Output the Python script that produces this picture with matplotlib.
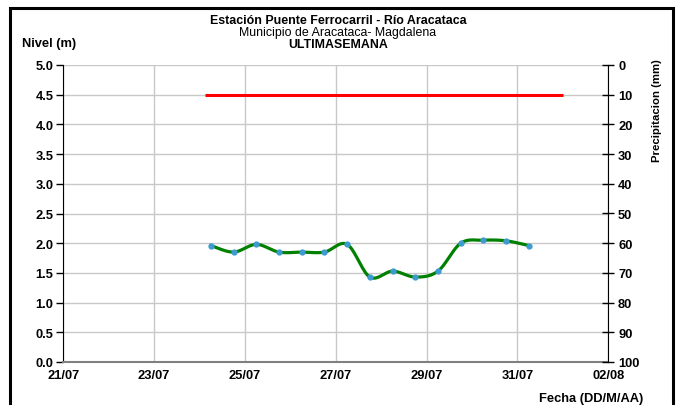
import matplotlib
matplotlib.use("Agg")
import matplotlib.pyplot as plt
import matplotlib.dates as mdates
from matplotlib.patches import Rectangle
import numpy as np
from datetime import datetime

plt.rcParams['font.family'] = ['Liberation Sans', 'DejaVu Sans']

# ---- data ----
times = ["2012-07-24 06:00", "2012-07-24 18:00", "2012-07-25 06:00", "2012-07-25 18:00",
         "2012-07-26 06:00", "2012-07-26 18:00", "2012-07-27 06:00", "2012-07-27 18:00",
         "2012-07-28 06:00", "2012-07-28 18:00", "2012-07-29 06:00", "2012-07-29 18:00",
         "2012-07-30 06:00", "2012-07-30 18:00", "2012-07-31 06:00"]
nivel = [1.96, 1.85, 1.98, 1.85, 1.85, 1.85, 1.98, 1.43, 1.53, 1.43, 1.53, 2.00, 2.05, 2.04, 1.96]
alerta_times = ["2012-07-24 03:00", "2012-08-01 00:00"]
alerta_nivel = [4.5, 4.5]
x_start = "2012-07-21"
x_end = "2012-08-02"

title1 = "Estación Puente Ferrocarril - Río Aracataca"
title2 = "Municipio de Aracataca- Magdalena"
title3 = "ULTIMASEMANA"

# ---- helpers ----
def to_num(ts):
    return np.array([mdates.date2num(datetime.fromisoformat(t)) for t in ts])

def smooth(x, y, n=20):
    # Excel-like smoothed line: cubic Bezier with Catmull-Rom control points
    x = np.asarray(x, float); y = np.asarray(y, float)
    px = np.concatenate([[x[0]], x, [x[-1]]])
    py = np.concatenate([[y[0]], y, [y[-1]]])
    xs, ys = [], []
    t = np.linspace(0, 1, n)
    for i in range(1, len(px) - 2):
        p0 = np.array([px[i], py[i]]); p3 = np.array([px[i + 1], py[i + 1]])
        p1 = p0 + (np.array([px[i + 1], py[i + 1]]) - np.array([px[i - 1], py[i - 1]])) / 6
        p2 = p3 - (np.array([px[i + 2], py[i + 2]]) - np.array([px[i], py[i]])) / 6
        b = ((1 - t) ** 3)[:, None] * p0 + (3 * (1 - t) ** 2 * t)[:, None] * p1 + \
            (3 * (1 - t) * t ** 2)[:, None] * p2 + (t ** 3)[:, None] * p3
        xs.extend(b[:, 0]); ys.extend(b[:, 1])
    return np.array(xs), np.array(ys)

W, H = 681, 406
FS = 9.3
TFS = 8.9
fig = plt.figure(figsize=(W / 100, H / 100), dpi=100)
ax = fig.add_axes([63.3 / W, 1 - 363 / H, (608.3 - 63.3) / W, (363 - 66) / H])

xn = to_num(times)
sx, sy = smooth(xn, nivel)
ax.plot(to_num(alerta_times), alerta_nivel, color='#ff0000', lw=2.2, solid_capstyle='butt', zorder=3)
ax.plot(sx, sy, color='#008000', lw=2.3, zorder=4)
ax.plot(xn, nivel, 'o', color='#3d9bd0', ms=3.5, mec='#3d9bd0', zorder=5)

x0 = mdates.date2num(datetime.fromisoformat(x_start))
x1 = mdates.date2num(datetime.fromisoformat(x_end))
ax.set_xlim(x0, x1)
ax.set_ylim(0, 5)
ax.xaxis.set_major_locator(mdates.DayLocator(interval=2))
ax.xaxis.set_major_formatter(mdates.DateFormatter('%d/%m'))
ax.set_yticks(np.arange(0, 5.01, 0.5))
ax.yaxis.set_major_formatter(matplotlib.ticker.FormatStrFormatter('%.1f'))
ax.grid(True, color='#c8c8c8', lw=1.0)
ax.set_axisbelow(True)
ax.spines['top'].set_visible(False)
ax.spines['left'].set_color('black')
ax.spines['bottom'].set_color('#808080')
ax.spines['bottom'].set_linewidth(1.5)
ax.spines['right'].set_visible(False)
ax.tick_params(axis='y', direction='out', length=5, width=1, labelsize=FS, pad=2)
ax.tick_params(axis='x', length=0, labelsize=FS, pad=5)
for lab in ax.get_xticklabels() + ax.get_yticklabels():
    lab.set_fontweight('bold')

ax2 = ax.twinx()
ax2.set_ylim(100, 0)
ax2.set_yticks(np.arange(0, 101, 10))
ax2.tick_params(axis='y', direction='inout', length=8, width=1, labelsize=FS, pad=3)
for s in ['top', 'left', 'bottom']:
    ax2.spines[s].set_visible(False)
ax2.spines['right'].set_color('black')
for lab in ax2.get_yticklabels():
    lab.set_fontweight('bold')

fig.text(657 / W, 1 - 111 / H, "Precipitacion (mm)", rotation=90, ha='center', va='center',
         fontsize=8.2, fontweight='bold')
fig.text(338 / W, 1 - 21.5 / H, title1, ha='center', va='center', fontsize=TFS, fontweight='bold')
fig.text(338 / W, 1 - 33.2 / H, title2, ha='center', va='center', fontsize=TFS)
fig.text(338 / W, 1 - 45 / H, title3, ha='center', va='center', fontsize=TFS, fontweight='bold')
fig.text(22 / W, 1 - 44 / H, "Nivel (m)", ha='left', va='center', fontsize=FS, fontweight='bold')
fig.text(643 / W, 1 - 399 / H, "Fecha (DD/M/AA)", ha='right', va='center', fontsize=FS, fontweight='bold')

fig.patches.append(Rectangle((10 / W, -0.05), (673 - 10) / W, (1 - 9 / H) + 0.05,
                             transform=fig.transFigure, fill=False, ec='black', lw=2.2))

fig.savefig("out.png", dpi=100)
